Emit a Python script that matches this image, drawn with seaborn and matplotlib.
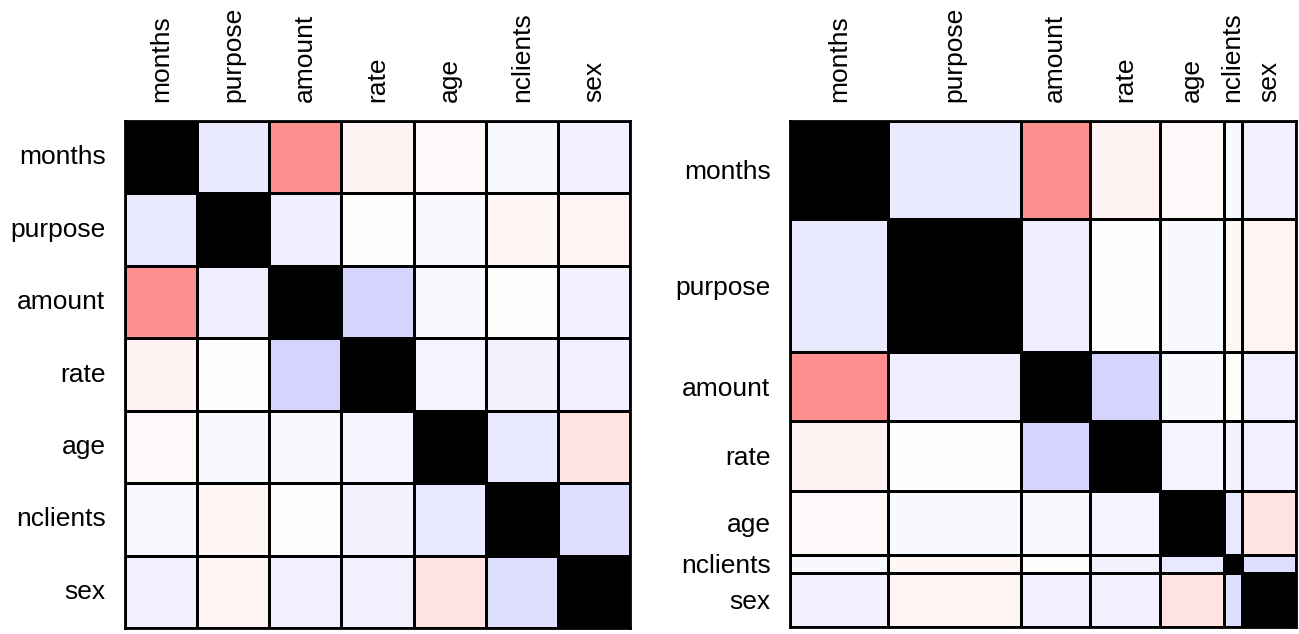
import numpy as np
import pandas as pd
import seaborn as sns
import matplotlib.pyplot as plt
from matplotlib.colors import LinearSegmentedColormap, Normalize

variables = ["months", "purpose", "amount", "rate", "age", "nclients", "sex"]

# upper triangle of the correlation matrix, row by row
r_months = [-0.08, 0.44, 0.05, 0.03, -0.03, -0.06]
r_purpose = [-0.07, 0.0, -0.03, 0.035, 0.04]
r_amount = [-0.17, -0.03, 0.01, -0.06]
r_rate = [-0.045, -0.05, -0.055]
r_age = [-0.09, 0.11]
r_nclients = [-0.13]

# relative sizes of the blocks in the right-hand panel
block_sizes = [2.93, 4.0, 2.05, 2.12, 1.9, 0.54, 1.63]

n = len(variables)
corr = np.eye(n)
for i, row in enumerate([r_months, r_purpose, r_amount, r_rate, r_age, r_nclients]):
    for k, v in enumerate(row):
        corr[i, i + 1 + k] = v
        corr[i + 1 + k, i] = v
df = pd.DataFrame(corr, index=variables, columns=variables)

cmap = LinearSegmentedColormap.from_list("bwr_soft", ["#0000ff", "#ffffff", "#ff0000"])
norm = Normalize(vmin=-1, vmax=1)
mask = np.eye(n, dtype=bool)

plt.rcParams['font.family'] = ['Liberation Sans', 'DejaVu Sans']
fig = plt.figure(figsize=(12.99, 6.34), dpi=100)
W, H = 1299, 634

# left: plain seaborn heatmap
ax1 = fig.add_axes([125 / W, (H - 628) / H, 505 / W, 507 / H])
ax1.set_facecolor("black")
sns.heatmap(df, mask=mask, cmap=cmap, vmin=-1, vmax=1, cbar=False,
            linewidths=2, linecolor="black", ax=ax1)
ax1.xaxis.tick_top()
ax1.set_xticklabels(variables, rotation=90, fontsize=19)
ax1.set_yticklabels(variables, rotation=0, fontsize=19)
ax1.tick_params(length=0, pad=14)
ax1.set_xlabel("")
ax1.set_ylabel("")

# right: same matrix with block sizes
edges = np.concatenate([[0], np.cumsum(block_sizes)])
centers = (edges[:-1] + edges[1:]) / 2
ax2 = fig.add_axes([790 / W, (H - 627) / H, 506 / W, 506 / H])
ax2.set_facecolor("black")
masked = np.ma.masked_array(corr, mask=mask)
ax2.pcolormesh(edges, edges, masked, cmap=cmap, norm=norm,
               edgecolors="black", linewidth=2)
ax2.set_xlim(edges[0], edges[-1])
ax2.set_ylim(edges[-1], edges[0])
ax2.xaxis.tick_top()
ax2.set_xticks(centers)
ax2.set_xticklabels(variables, rotation=90, fontsize=19)
ax2.set_yticks(centers)
ax2.set_yticklabels(variables, fontsize=19)
ax2.tick_params(length=0, pad=14)

for ax in (ax1, ax2):
    for s in ax.spines.values():
        s.set_visible(True)
        s.set_color("black")
        s.set_linewidth(2)

fig.savefig("out.png", dpi=100)
